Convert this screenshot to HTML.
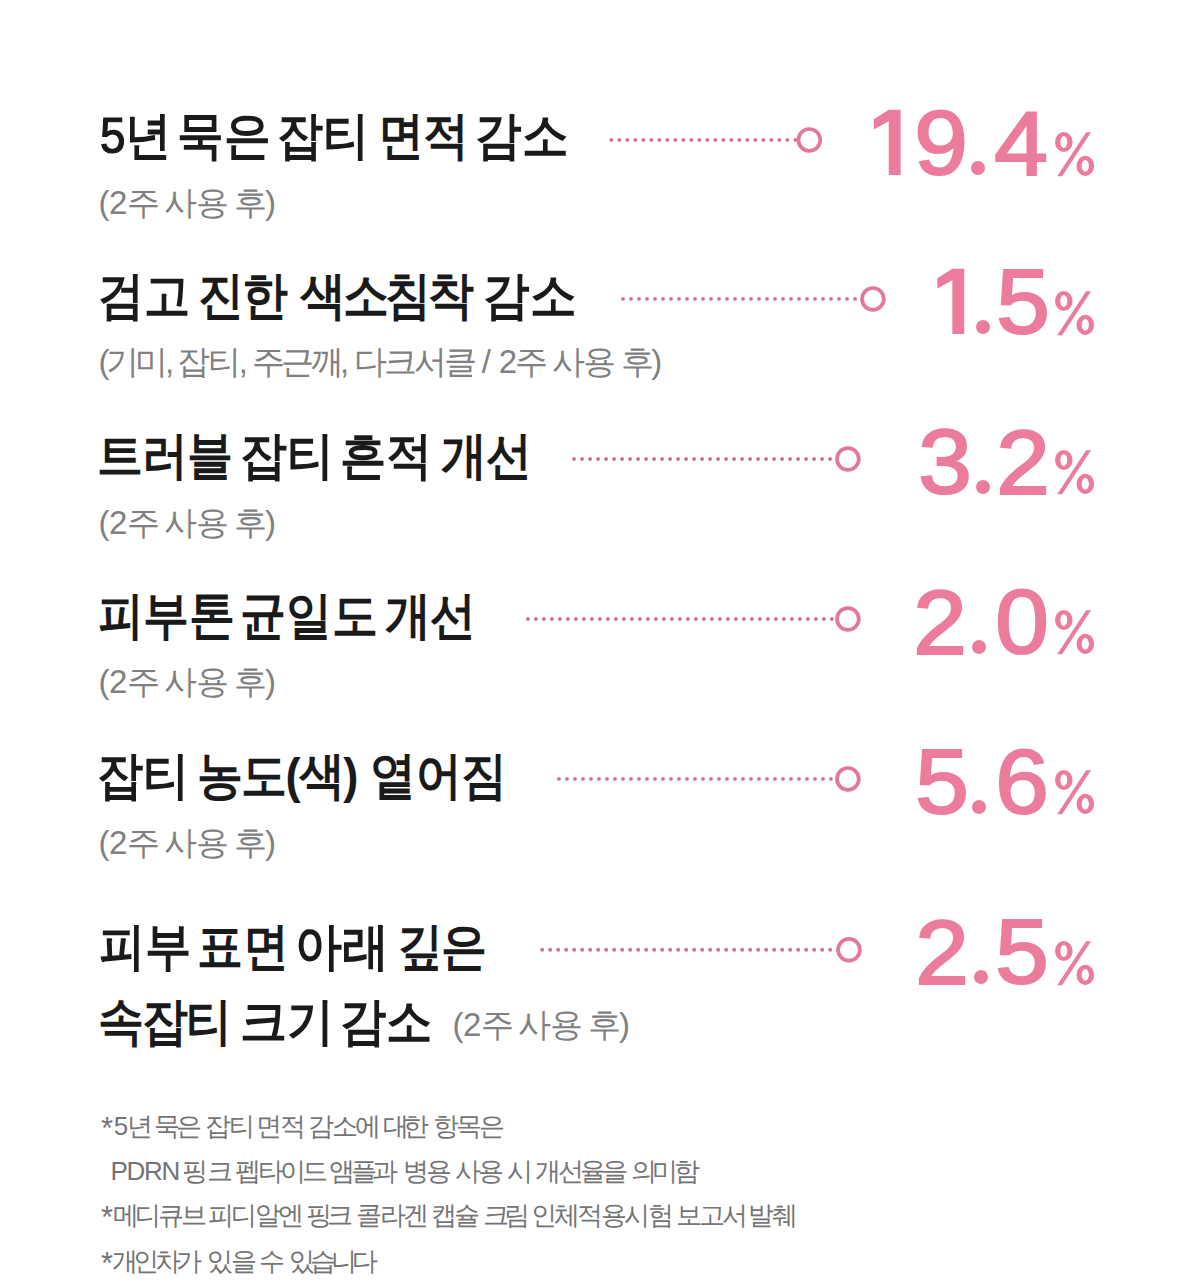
<!DOCTYPE html>
<html><head><meta charset="utf-8"><style>
html,body{margin:0;padding:0;background:#fff;}
body{width:1200px;height:1280px;position:relative;overflow:hidden;font-family:"Liberation Sans",sans-serif;}
.a{position:absolute;white-space:nowrap;line-height:1;}
.t{font-size:50.5px;font-weight:700;color:#1a1a1a;}
.t b{font-weight:400;-webkit-text-stroke:1.2px #161616;}
.s{font-size:33px;font-weight:400;color:#808080;}
.d{position:absolute;line-height:1;font-size:90px;font-weight:400;color:#ec7c9c;-webkit-text-stroke:2.2px #ec7c9c;}
.p{position:absolute;width:14px;height:14px;border-radius:50%;background:#ec7c9c;}
.f{font-size:26px;font-weight:400;color:#747474;}
svg{position:absolute;overflow:visible;}
</style></head><body>

<div class="a t" style="left:99.69px;top:111px;letter-spacing:0.0px;transform:scaleX(0.9070422535211269);transform-origin:0 0"><b>5</b>년</div>
<div class="a t" style="left:177.25px;top:111px;letter-spacing:0.0px;transform:scaleX(0.9157894736842105);transform-origin:0 0">묵은</div>
<div class="a t" style="left:276.89px;top:111px;letter-spacing:0.0px;transform:scaleX(0.9043956043956038);transform-origin:0 0">잡티</div>
<div class="a t" style="left:377.5px;top:111px;letter-spacing:-0.56px;transform:scaleX(0.9);transform-origin:0 0">면적</div>
<div class="a t" style="left:475.26px;top:111px;letter-spacing:0.0px;transform:scaleX(0.9126315789473689);transform-origin:0 0">감소</div>
<div class="a s" style="left:98.50px;top:186px;letter-spacing:-0.4px">(2주</div>
<div class="a s" style="left:164.00px;top:186px;letter-spacing:-0.6px">사용</div>
<div class="a s" style="left:234.00px;top:186px;letter-spacing:-2.0px">후)</div>
<svg style="left:0;top:0" width="1200" height="1280"><g fill="#d07593"><circle cx="611.30" cy="139.9" r="1.95"/><circle cx="619.30" cy="139.9" r="1.95"/><circle cx="627.30" cy="139.9" r="1.95"/><circle cx="635.30" cy="139.9" r="1.95"/><circle cx="643.30" cy="139.9" r="1.95"/><circle cx="651.30" cy="139.9" r="1.95"/><circle cx="659.30" cy="139.9" r="1.95"/><circle cx="667.30" cy="139.9" r="1.95"/><circle cx="675.30" cy="139.9" r="1.95"/><circle cx="683.30" cy="139.9" r="1.95"/><circle cx="691.30" cy="139.9" r="1.95"/><circle cx="699.30" cy="139.9" r="1.95"/><circle cx="707.30" cy="139.9" r="1.95"/><circle cx="715.30" cy="139.9" r="1.95"/><circle cx="723.30" cy="139.9" r="1.95"/><circle cx="731.30" cy="139.9" r="1.95"/><circle cx="739.30" cy="139.9" r="1.95"/><circle cx="747.30" cy="139.9" r="1.95"/><circle cx="755.30" cy="139.9" r="1.95"/><circle cx="763.30" cy="139.9" r="1.95"/><circle cx="771.30" cy="139.9" r="1.95"/><circle cx="779.30" cy="139.9" r="1.95"/><circle cx="787.30" cy="139.9" r="1.95"/><circle cx="795.30" cy="139.9" r="1.95"/><circle cx="803.30" cy="139.9" r="1.95"/></g><circle cx="809.3" cy="139.9" r="10.9" fill="#fff" stroke="#e2789a" stroke-width="3.7"/></svg>
<svg style="left:0;top:0" width="1200" height="1280"><polygon points="888.75,109.80 900.60,109.80 900.60,175.00 888.75,175.00 888.75,121.20 873.80,129.40 873.80,119.20" fill="#ec7c9c"/></svg>
<div class="d" style="left:915.50px;top:98.00px;transform:scaleX(1.07);transform-origin:24.5px 50%">9</div>
<div class="p" style="left:971.25px;top:161.0px"></div>
<div class="d" style="left:995.90px;top:98.50px;transform:scaleX(1.07);transform-origin:24.5px 50%">4</div>
<svg style="left:1054.8px;top:131.5px" width="40" height="45" viewBox="0 0 40 45"><path fill="#ec7c9c" fill-rule="evenodd" d="M0.00,10.00 a8.8,10.0 0 1,0 17.60,0 a8.8,10.0 0 1,0 -17.60,0 Z M5.30,10.00 a3.5,5.9 0 1,0 7.00,0 a3.5,5.9 0 1,0 -7.00,0 Z M21.50,33.90 a8.8,10.1 0 1,0 17.60,0 a8.8,10.1 0 1,0 -17.60,0 Z M26.70,33.90 a3.6,5.8 0 1,0 7.20,0 a3.6,5.8 0 1,0 -7.20,0 Z"/><polygon fill="#ec7c9c" points="2.2,44.2 7.1,44.2 36.0,0.3 31.1,0.3"/></svg>
<div class="a t" style="left:98.28px;top:270.5px;letter-spacing:0.0px;transform:scaleX(0.9052631578947369);transform-origin:0 0">검고</div>
<div class="a t" style="left:198.3px;top:270.5px;letter-spacing:-2.44px;transform:scaleX(0.9);transform-origin:0 0">진한</div>
<div class="a t" style="left:299.5px;top:270.5px;letter-spacing:-3.59px;transform:scaleX(0.9);transform-origin:0 0">색소침착</div>
<div class="a t" style="left:482.56px;top:270.5px;letter-spacing:0.0px;transform:scaleX(0.9126315789473683);transform-origin:0 0">감소</div>
<div class="a s" style="left:98.50px;top:345.4px;letter-spacing:-3.5px">(기미,</div>
<div class="a s" style="left:177.00px;top:345.4px;letter-spacing:-2.12px">잡티,</div>
<div class="a s" style="left:251.75px;top:345.4px;letter-spacing:-3.58px">주근깨,</div>
<div class="a s" style="left:354.00px;top:345.4px;letter-spacing:-3.08px">다크서클</div>
<div class="a s" style="left:481.70px;top:345.4px;letter-spacing:0.0px">/</div>
<div class="a s" style="left:498.80px;top:345.4px;letter-spacing:-1.8px">2주</div>
<div class="a s" style="left:552.20px;top:345.4px;letter-spacing:-1.9px">사용</div>
<div class="a s" style="left:620.50px;top:345.4px;letter-spacing:-2.3px">후)</div>
<svg style="left:0;top:0" width="1200" height="1280"><g fill="#d07593"><circle cx="623.00" cy="298.9" r="1.95"/><circle cx="631.00" cy="298.9" r="1.95"/><circle cx="639.00" cy="298.9" r="1.95"/><circle cx="647.00" cy="298.9" r="1.95"/><circle cx="655.00" cy="298.9" r="1.95"/><circle cx="663.00" cy="298.9" r="1.95"/><circle cx="671.00" cy="298.9" r="1.95"/><circle cx="679.00" cy="298.9" r="1.95"/><circle cx="687.00" cy="298.9" r="1.95"/><circle cx="695.00" cy="298.9" r="1.95"/><circle cx="703.00" cy="298.9" r="1.95"/><circle cx="711.00" cy="298.9" r="1.95"/><circle cx="719.00" cy="298.9" r="1.95"/><circle cx="727.00" cy="298.9" r="1.95"/><circle cx="735.00" cy="298.9" r="1.95"/><circle cx="743.00" cy="298.9" r="1.95"/><circle cx="751.00" cy="298.9" r="1.95"/><circle cx="759.00" cy="298.9" r="1.95"/><circle cx="767.00" cy="298.9" r="1.95"/><circle cx="775.00" cy="298.9" r="1.95"/><circle cx="783.00" cy="298.9" r="1.95"/><circle cx="791.00" cy="298.9" r="1.95"/><circle cx="799.00" cy="298.9" r="1.95"/><circle cx="807.00" cy="298.9" r="1.95"/><circle cx="815.00" cy="298.9" r="1.95"/><circle cx="823.00" cy="298.9" r="1.95"/><circle cx="831.00" cy="298.9" r="1.95"/><circle cx="839.00" cy="298.9" r="1.95"/><circle cx="847.00" cy="298.9" r="1.95"/><circle cx="855.00" cy="298.9" r="1.95"/><circle cx="863.00" cy="298.9" r="1.95"/><circle cx="871.00" cy="298.9" r="1.95"/></g><circle cx="872.9" cy="298.9" r="10.9" fill="#fff" stroke="#e2789a" stroke-width="3.7"/></svg>
<svg style="left:0;top:0" width="1200" height="1280"><polygon points="952.35,268.85 964.20,268.85 964.20,334.05 952.35,334.05 952.35,280.25 937.40,288.45 937.40,278.25" fill="#ec7c9c"/></svg>
<div class="p" style="left:975.85px;top:320.05px"></div>
<div class="d" style="left:998.35px;top:257.05px;transform:scaleX(1.07);transform-origin:24.0px 50%">5</div>
<svg style="left:1055px;top:290.55px" width="40" height="45" viewBox="0 0 40 45"><path fill="#ec7c9c" fill-rule="evenodd" d="M0.00,10.00 a8.8,10.0 0 1,0 17.60,0 a8.8,10.0 0 1,0 -17.60,0 Z M5.30,10.00 a3.5,5.9 0 1,0 7.00,0 a3.5,5.9 0 1,0 -7.00,0 Z M21.50,33.90 a8.8,10.1 0 1,0 17.60,0 a8.8,10.1 0 1,0 -17.60,0 Z M26.70,33.90 a3.6,5.8 0 1,0 7.20,0 a3.6,5.8 0 1,0 -7.20,0 Z"/><polygon fill="#ec7c9c" points="2.2,44.2 7.1,44.2 36.0,0.3 31.1,0.3"/></svg>
<div class="a t" style="left:97.3px;top:430.5px;letter-spacing:-0.78px;transform:scaleX(0.9);transform-origin:0 0">트러블</div>
<div class="a t" style="left:239.74px;top:430.5px;letter-spacing:0.0px;transform:scaleX(0.9203296703296703);transform-origin:0 0">잡티</div>
<div class="a t" style="left:339.78px;top:430.5px;letter-spacing:0.0px;transform:scaleX(0.9065934065934066);transform-origin:0 0">흔적</div>
<div class="a t" style="left:440.6px;top:430.5px;letter-spacing:-1.0px;transform:scaleX(0.9);transform-origin:0 0">개선</div>
<div class="a s" style="left:98.50px;top:505.75px;letter-spacing:-0.4px">(2주</div>
<div class="a s" style="left:164.00px;top:505.75px;letter-spacing:-0.6px">사용</div>
<div class="a s" style="left:234.00px;top:505.75px;letter-spacing:-2.0px">후)</div>
<svg style="left:0;top:0" width="1200" height="1280"><g fill="#d07593"><circle cx="574.10" cy="459" r="1.95"/><circle cx="582.10" cy="459" r="1.95"/><circle cx="590.10" cy="459" r="1.95"/><circle cx="598.10" cy="459" r="1.95"/><circle cx="606.10" cy="459" r="1.95"/><circle cx="614.10" cy="459" r="1.95"/><circle cx="622.10" cy="459" r="1.95"/><circle cx="630.10" cy="459" r="1.95"/><circle cx="638.10" cy="459" r="1.95"/><circle cx="646.10" cy="459" r="1.95"/><circle cx="654.10" cy="459" r="1.95"/><circle cx="662.10" cy="459" r="1.95"/><circle cx="670.10" cy="459" r="1.95"/><circle cx="678.10" cy="459" r="1.95"/><circle cx="686.10" cy="459" r="1.95"/><circle cx="694.10" cy="459" r="1.95"/><circle cx="702.10" cy="459" r="1.95"/><circle cx="710.10" cy="459" r="1.95"/><circle cx="718.10" cy="459" r="1.95"/><circle cx="726.10" cy="459" r="1.95"/><circle cx="734.10" cy="459" r="1.95"/><circle cx="742.10" cy="459" r="1.95"/><circle cx="750.10" cy="459" r="1.95"/><circle cx="758.10" cy="459" r="1.95"/><circle cx="766.10" cy="459" r="1.95"/><circle cx="774.10" cy="459" r="1.95"/><circle cx="782.10" cy="459" r="1.95"/><circle cx="790.10" cy="459" r="1.95"/><circle cx="798.10" cy="459" r="1.95"/><circle cx="806.10" cy="459" r="1.95"/><circle cx="814.10" cy="459" r="1.95"/><circle cx="822.10" cy="459" r="1.95"/><circle cx="830.10" cy="459" r="1.95"/><circle cx="838.10" cy="459" r="1.95"/><circle cx="846.10" cy="459" r="1.95"/></g><circle cx="847.9" cy="459" r="10.9" fill="#fff" stroke="#e2789a" stroke-width="3.7"/></svg>
<div class="d" style="left:919.80px;top:416.80px;transform:scaleX(1.07);transform-origin:24.0px 50%">3</div>
<div class="p" style="left:975.6px;top:479.8px"></div>
<div class="d" style="left:997.85px;top:417.80px;transform:scaleX(1.07);transform-origin:24.5px 50%">2</div>
<svg style="left:1055.3px;top:450.3px" width="40" height="45" viewBox="0 0 40 45"><path fill="#ec7c9c" fill-rule="evenodd" d="M0.00,10.00 a8.8,10.0 0 1,0 17.60,0 a8.8,10.0 0 1,0 -17.60,0 Z M5.30,10.00 a3.5,5.9 0 1,0 7.00,0 a3.5,5.9 0 1,0 -7.00,0 Z M21.50,33.90 a8.8,10.1 0 1,0 17.60,0 a8.8,10.1 0 1,0 -17.60,0 Z M26.70,33.90 a3.6,5.8 0 1,0 7.20,0 a3.6,5.8 0 1,0 -7.20,0 Z"/><polygon fill="#ec7c9c" points="2.2,44.2 7.1,44.2 36.0,0.3 31.1,0.3"/></svg>
<div class="a t" style="left:98.2px;top:590.8px;letter-spacing:-0.58px;transform:scaleX(0.9);transform-origin:0 0">피부톤</div>
<div class="a t" style="left:239.8px;top:590.8px;letter-spacing:-0.08px;transform:scaleX(0.9);transform-origin:0 0">균일도</div>
<div class="a t" style="left:384.9px;top:590.8px;letter-spacing:-0.67px;transform:scaleX(0.9);transform-origin:0 0">개선</div>
<div class="a s" style="left:98.50px;top:664.9px;letter-spacing:-0.4px">(2주</div>
<div class="a s" style="left:164.00px;top:664.9px;letter-spacing:-0.6px">사용</div>
<div class="a s" style="left:234.00px;top:664.9px;letter-spacing:-2.0px">후)</div>
<svg style="left:0;top:0" width="1200" height="1280"><g fill="#d07593"><circle cx="527.90" cy="619" r="1.95"/><circle cx="535.90" cy="619" r="1.95"/><circle cx="543.90" cy="619" r="1.95"/><circle cx="551.90" cy="619" r="1.95"/><circle cx="559.90" cy="619" r="1.95"/><circle cx="567.90" cy="619" r="1.95"/><circle cx="575.90" cy="619" r="1.95"/><circle cx="583.90" cy="619" r="1.95"/><circle cx="591.90" cy="619" r="1.95"/><circle cx="599.90" cy="619" r="1.95"/><circle cx="607.90" cy="619" r="1.95"/><circle cx="615.90" cy="619" r="1.95"/><circle cx="623.90" cy="619" r="1.95"/><circle cx="631.90" cy="619" r="1.95"/><circle cx="639.90" cy="619" r="1.95"/><circle cx="647.90" cy="619" r="1.95"/><circle cx="655.90" cy="619" r="1.95"/><circle cx="663.90" cy="619" r="1.95"/><circle cx="671.90" cy="619" r="1.95"/><circle cx="679.90" cy="619" r="1.95"/><circle cx="687.90" cy="619" r="1.95"/><circle cx="695.90" cy="619" r="1.95"/><circle cx="703.90" cy="619" r="1.95"/><circle cx="711.90" cy="619" r="1.95"/><circle cx="719.90" cy="619" r="1.95"/><circle cx="727.90" cy="619" r="1.95"/><circle cx="735.90" cy="619" r="1.95"/><circle cx="743.90" cy="619" r="1.95"/><circle cx="751.90" cy="619" r="1.95"/><circle cx="759.90" cy="619" r="1.95"/><circle cx="767.90" cy="619" r="1.95"/><circle cx="775.90" cy="619" r="1.95"/><circle cx="783.90" cy="619" r="1.95"/><circle cx="791.90" cy="619" r="1.95"/><circle cx="799.90" cy="619" r="1.95"/><circle cx="807.90" cy="619" r="1.95"/><circle cx="815.90" cy="619" r="1.95"/><circle cx="823.90" cy="619" r="1.95"/><circle cx="831.90" cy="619" r="1.95"/><circle cx="839.90" cy="619" r="1.95"/><circle cx="847.90" cy="619" r="1.95"/></g><circle cx="847.9" cy="619" r="10.9" fill="#fff" stroke="#e2789a" stroke-width="3.7"/></svg>
<div class="d" style="left:915.05px;top:577.80px;transform:scaleX(1.07);transform-origin:24.5px 50%">2</div>
<div class="p" style="left:971.9px;top:639.8px"></div>
<div class="d" style="left:996.70px;top:576.80px;transform:scaleX(1.07);transform-origin:24.5px 50%">0</div>
<svg style="left:1054.5px;top:610.3px" width="40" height="45" viewBox="0 0 40 45"><path fill="#ec7c9c" fill-rule="evenodd" d="M0.00,10.00 a8.8,10.0 0 1,0 17.60,0 a8.8,10.0 0 1,0 -17.60,0 Z M5.30,10.00 a3.5,5.9 0 1,0 7.00,0 a3.5,5.9 0 1,0 -7.00,0 Z M21.50,33.90 a8.8,10.1 0 1,0 17.60,0 a8.8,10.1 0 1,0 -17.60,0 Z M26.70,33.90 a3.6,5.8 0 1,0 7.20,0 a3.6,5.8 0 1,0 -7.20,0 Z"/><polygon fill="#ec7c9c" points="2.2,44.2 7.1,44.2 36.0,0.3 31.1,0.3"/></svg>
<div class="a t" style="left:96.88px;top:750.5px;letter-spacing:0.0px;transform:scaleX(0.9065934065934066);transform-origin:0 0">잡티</div>
<div class="a t" style="left:197.3px;top:750.5px;letter-spacing:-1.83px;transform:scaleX(0.9);transform-origin:0 0">농도(색)</div>
<div class="a t" style="left:369.7px;top:750.5px;letter-spacing:-0.39px;transform:scaleX(0.9);transform-origin:0 0">옅어짐</div>
<div class="a s" style="left:98.50px;top:825.75px;letter-spacing:-0.4px">(2주</div>
<div class="a s" style="left:164.00px;top:825.75px;letter-spacing:-0.6px">사용</div>
<div class="a s" style="left:234.00px;top:825.75px;letter-spacing:-2.0px">후)</div>
<svg style="left:0;top:0" width="1200" height="1280"><g fill="#d07593"><circle cx="558.90" cy="778.9" r="1.95"/><circle cx="566.90" cy="778.9" r="1.95"/><circle cx="574.90" cy="778.9" r="1.95"/><circle cx="582.90" cy="778.9" r="1.95"/><circle cx="590.90" cy="778.9" r="1.95"/><circle cx="598.90" cy="778.9" r="1.95"/><circle cx="606.90" cy="778.9" r="1.95"/><circle cx="614.90" cy="778.9" r="1.95"/><circle cx="622.90" cy="778.9" r="1.95"/><circle cx="630.90" cy="778.9" r="1.95"/><circle cx="638.90" cy="778.9" r="1.95"/><circle cx="646.90" cy="778.9" r="1.95"/><circle cx="654.90" cy="778.9" r="1.95"/><circle cx="662.90" cy="778.9" r="1.95"/><circle cx="670.90" cy="778.9" r="1.95"/><circle cx="678.90" cy="778.9" r="1.95"/><circle cx="686.90" cy="778.9" r="1.95"/><circle cx="694.90" cy="778.9" r="1.95"/><circle cx="702.90" cy="778.9" r="1.95"/><circle cx="710.90" cy="778.9" r="1.95"/><circle cx="718.90" cy="778.9" r="1.95"/><circle cx="726.90" cy="778.9" r="1.95"/><circle cx="734.90" cy="778.9" r="1.95"/><circle cx="742.90" cy="778.9" r="1.95"/><circle cx="750.90" cy="778.9" r="1.95"/><circle cx="758.90" cy="778.9" r="1.95"/><circle cx="766.90" cy="778.9" r="1.95"/><circle cx="774.90" cy="778.9" r="1.95"/><circle cx="782.90" cy="778.9" r="1.95"/><circle cx="790.90" cy="778.9" r="1.95"/><circle cx="798.90" cy="778.9" r="1.95"/><circle cx="806.90" cy="778.9" r="1.95"/><circle cx="814.90" cy="778.9" r="1.95"/><circle cx="822.90" cy="778.9" r="1.95"/><circle cx="830.90" cy="778.9" r="1.95"/><circle cx="838.90" cy="778.9" r="1.95"/><circle cx="846.90" cy="778.9" r="1.95"/></g><circle cx="847.9" cy="778.9" r="10.9" fill="#fff" stroke="#e2789a" stroke-width="3.7"/></svg>
<div class="d" style="left:917.15px;top:736.80px;transform:scaleX(1.07);transform-origin:24.0px 50%">5</div>
<div class="p" style="left:972.3px;top:799.8px"></div>
<div class="d" style="left:996.60px;top:736.80px;transform:scaleX(1.07);transform-origin:25.0px 50%">6</div>
<svg style="left:1054.8px;top:770.3px" width="40" height="45" viewBox="0 0 40 45"><path fill="#ec7c9c" fill-rule="evenodd" d="M0.00,10.00 a8.8,10.0 0 1,0 17.60,0 a8.8,10.0 0 1,0 -17.60,0 Z M5.30,10.00 a3.5,5.9 0 1,0 7.00,0 a3.5,5.9 0 1,0 -7.00,0 Z M21.50,33.90 a8.8,10.1 0 1,0 17.60,0 a8.8,10.1 0 1,0 -17.60,0 Z M26.70,33.90 a3.6,5.8 0 1,0 7.20,0 a3.6,5.8 0 1,0 -7.20,0 Z"/><polygon fill="#ec7c9c" points="2.2,44.2 7.1,44.2 36.0,0.3 31.1,0.3"/></svg>
<div class="a t" style="left:98.69px;top:921.6px;letter-spacing:0.0px;transform:scaleX(0.9072916666666666);transform-origin:0 0">피부</div>
<div class="a t" style="left:197.3px;top:921.6px;letter-spacing:-0.33px;transform:scaleX(0.9);transform-origin:0 0">표면</div>
<div class="a t" style="left:295.31px;top:921.6px;letter-spacing:0.0px;transform:scaleX(0.9219780219780217);transform-origin:0 0">아래</div>
<div class="a t" style="left:397.2px;top:921.6px;letter-spacing:-1.56px;transform:scaleX(0.9);transform-origin:0 0">깊은</div>
<div class="a t" style="left:98.3px;top:997px;letter-spacing:-2.22px;transform:scaleX(0.9);transform-origin:0 0">속잡티</div>
<div class="a t" style="left:239.83px;top:997px;letter-spacing:0.0px;transform:scaleX(0.921978021978022);transform-origin:0 0">크기</div>
<div class="a t" style="left:340.28px;top:997px;letter-spacing:0.0px;transform:scaleX(0.9073684210526315);transform-origin:0 0">감소</div>
<div class="a s" style="left:452.50px;top:1008px;letter-spacing:-0.4px">(2주</div>
<div class="a s" style="left:518.00px;top:1008px;letter-spacing:-0.6px">사용</div>
<div class="a s" style="left:588.00px;top:1008px;letter-spacing:-2.0px">후)</div>
<svg style="left:0;top:0" width="1200" height="1280"><g fill="#d07593"><circle cx="542.20" cy="949.8" r="1.95"/><circle cx="550.20" cy="949.8" r="1.95"/><circle cx="558.20" cy="949.8" r="1.95"/><circle cx="566.20" cy="949.8" r="1.95"/><circle cx="574.20" cy="949.8" r="1.95"/><circle cx="582.20" cy="949.8" r="1.95"/><circle cx="590.20" cy="949.8" r="1.95"/><circle cx="598.20" cy="949.8" r="1.95"/><circle cx="606.20" cy="949.8" r="1.95"/><circle cx="614.20" cy="949.8" r="1.95"/><circle cx="622.20" cy="949.8" r="1.95"/><circle cx="630.20" cy="949.8" r="1.95"/><circle cx="638.20" cy="949.8" r="1.95"/><circle cx="646.20" cy="949.8" r="1.95"/><circle cx="654.20" cy="949.8" r="1.95"/><circle cx="662.20" cy="949.8" r="1.95"/><circle cx="670.20" cy="949.8" r="1.95"/><circle cx="678.20" cy="949.8" r="1.95"/><circle cx="686.20" cy="949.8" r="1.95"/><circle cx="694.20" cy="949.8" r="1.95"/><circle cx="702.20" cy="949.8" r="1.95"/><circle cx="710.20" cy="949.8" r="1.95"/><circle cx="718.20" cy="949.8" r="1.95"/><circle cx="726.20" cy="949.8" r="1.95"/><circle cx="734.20" cy="949.8" r="1.95"/><circle cx="742.20" cy="949.8" r="1.95"/><circle cx="750.20" cy="949.8" r="1.95"/><circle cx="758.20" cy="949.8" r="1.95"/><circle cx="766.20" cy="949.8" r="1.95"/><circle cx="774.20" cy="949.8" r="1.95"/><circle cx="782.20" cy="949.8" r="1.95"/><circle cx="790.20" cy="949.8" r="1.95"/><circle cx="798.20" cy="949.8" r="1.95"/><circle cx="806.20" cy="949.8" r="1.95"/><circle cx="814.20" cy="949.8" r="1.95"/><circle cx="822.20" cy="949.8" r="1.95"/><circle cx="830.20" cy="949.8" r="1.95"/><circle cx="838.20" cy="949.8" r="1.95"/><circle cx="846.20" cy="949.8" r="1.95"/></g><circle cx="849" cy="949.8" r="10.9" fill="#fff" stroke="#e2789a" stroke-width="3.7"/></svg>
<div class="d" style="left:916.65px;top:908.05px;transform:scaleX(1.07);transform-origin:24.5px 50%">2</div>
<div class="p" style="left:973.55px;top:970.05px"></div>
<div class="d" style="left:997.10px;top:907.05px;transform:scaleX(1.07);transform-origin:24.0px 50%">5</div>
<svg style="left:1054.8px;top:940.55px" width="40" height="45" viewBox="0 0 40 45"><path fill="#ec7c9c" fill-rule="evenodd" d="M0.00,10.00 a8.8,10.0 0 1,0 17.60,0 a8.8,10.0 0 1,0 -17.60,0 Z M5.30,10.00 a3.5,5.9 0 1,0 7.00,0 a3.5,5.9 0 1,0 -7.00,0 Z M21.50,33.90 a8.8,10.1 0 1,0 17.60,0 a8.8,10.1 0 1,0 -17.60,0 Z M26.70,33.90 a3.6,5.8 0 1,0 7.20,0 a3.6,5.8 0 1,0 -7.20,0 Z"/><polygon fill="#ec7c9c" points="2.2,44.2 7.1,44.2 36.0,0.3 31.1,0.3"/></svg>
<div class="a f" style="left:101.12px;top:1113.4px;font-size:31px;">*</div>
<div class="a f" style="left:113.75px;top:1113.4px;;letter-spacing:-1.25px">5년</div>
<div class="a f" style="left:154.25px;top:1113.4px;;letter-spacing:-4.5px">묵은</div>
<div class="a f" style="left:205.0px;top:1113.4px;;letter-spacing:-2.0px">잡티</div>
<div class="a f" style="left:256.0px;top:1113.4px;;letter-spacing:-2.0px">면적</div>
<div class="a f" style="left:308.0px;top:1113.4px;;letter-spacing:-2.5px">감소에</div>
<div class="a f" style="left:383.0px;top:1113.4px;;letter-spacing:-6.25px">대한</div>
<div class="a f" style="left:432.75px;top:1113.4px;;letter-spacing:-2.97px">항목은</div>
<div class="a f" style="left:110.5px;top:1158px;;letter-spacing:-1.33px">PDRN</div>
<div class="a f" style="left:181.75px;top:1158px;;letter-spacing:-0.75px">핑크</div>
<div class="a f" style="left:235.25px;top:1158px;;letter-spacing:-3.75px">펩타이드</div>
<div class="a f" style="left:329.25px;top:1158px;;letter-spacing:-4.38px">앰플과</div>
<div class="a f" style="left:403.25px;top:1158px;;letter-spacing:-3.5px">병용</div>
<div class="a f" style="left:455.25px;top:1158px;;letter-spacing:-3.0px">사용</div>
<div class="a f" style="left:507.35px;top:1158px;">시</div>
<div class="a f" style="left:535.25px;top:1158px;;letter-spacing:-3.75px">개선율을</div>
<div class="a f" style="left:630.5px;top:1158px;;letter-spacing:-4.25px">의미함</div>
<div class="a f" style="left:101.12px;top:1202px;font-size:31px;">*</div>
<div class="a f" style="left:112.75px;top:1202px;;letter-spacing:-3.33px">메디큐브</div>
<div class="a f" style="left:208.0px;top:1202px;;letter-spacing:-2.67px">피디알엔</div>
<div class="a f" style="left:306.0px;top:1202px;;letter-spacing:-5.0px">핑크</div>
<div class="a f" style="left:356.0px;top:1202px;;letter-spacing:-2.5px">콜라겐</div>
<div class="a f" style="left:431.0px;top:1202px;;letter-spacing:-3.0px">캡슐</div>
<div class="a f" style="left:483.0px;top:1202px;;letter-spacing:-5.0px">크림</div>
<div class="a f" style="left:530.75px;top:1202px;;letter-spacing:-2.65px">인체적용시험</div>
<div class="a f" style="left:675.5px;top:1202px;;letter-spacing:-2.6px">보고서</div>
<div class="a f" style="left:747.8px;top:1202px;;letter-spacing:-1.5px">발췌</div>
<div class="a f" style="left:101.12px;top:1248px;font-size:31px;">*</div>
<div class="a f" style="left:111.5px;top:1248px;;letter-spacing:-4.42px">개인차가</div>
<div class="a f" style="left:206.75px;top:1248px;;letter-spacing:-2.0px">있을</div>
<div class="a f" style="left:258.75px;top:1248px;">수</div>
<div class="a f" style="left:289.25px;top:1248px;;letter-spacing:-4.92px">있습니다</div>
</body></html>
